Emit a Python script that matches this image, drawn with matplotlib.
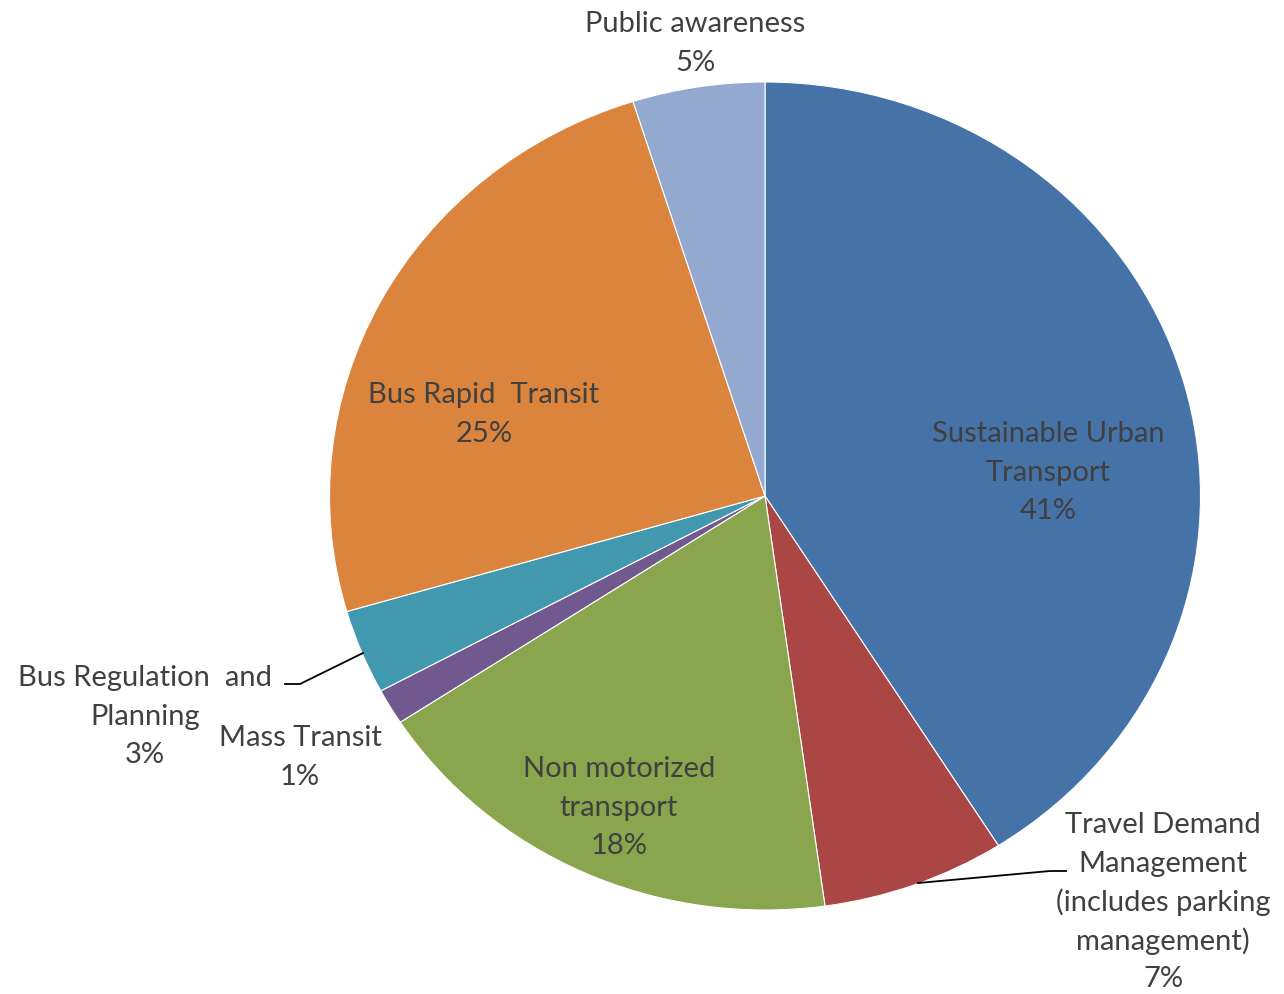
import matplotlib.pyplot as plt

categories = ["Sustainable Urban\nTransport", "Travel Demand\nManagement\n(includes parking\nmanagement)",
              "Non motorized\ntransport", "Mass Transit", "Bus Regulation  and\nPlanning",
              "Bus Rapid  Transit", "Public awareness"]
values = [41.0, 6.8, 18.0, 1.4, 3.3, 24.6, 4.9]
colors = ["#4572A7", "#AA4643", "#89A54E", "#71588F", "#4198AF", "#DB843D", "#93A9CF"]

W, H = 1284, 994
cx, cy, rx, ry = 765, 496, 435.5, 414

fig = plt.figure(figsize=(W / 100, H / 100), dpi=100)
ax = fig.add_axes([(cx - rx) / W, (H - cy - ry) / H, 2 * rx / W, 2 * ry / H])
ax.pie(values, colors=colors, startangle=90, counterclock=False,
       wedgeprops=dict(linewidth=0.8, edgecolor="white"))
ax.set_aspect("auto")
ax.set_xlim(-1, 1)
ax.set_ylim(-1, 1)
ax.set_axis_off()


def px(x, y):
    return (x - cx) / rx, (cy - y) / ry


# label position (centre x, first line y) in pixel space; one text per line
label_pos = [(1048, 434), (1163, 825), (619, 769), (300, 738), (145, 678), (484, 395), (695, 24)]
line_step = 38.6
for name, v, (lx, ly) in zip(categories, values, label_pos):
    lines = name.split("\n") + [f"{round(v)}%"]
    for i, line in enumerate(lines):
        x, y = px(lx, ly + i * line_step)
        ax.text(x, y, line, ha="center", va="center", fontsize=21,
                family="Lato", color="#404040", clip_on=False)

# leader lines
for pts in [[(363, 653), (300, 684), (285, 684)], [(918, 883), (1050, 871), (1066, 871)]]:
    xs, ys = zip(*[px(a, b) for a, b in pts])
    ax.plot(xs, ys, color="black", lw=1.3, clip_on=False)

fig.savefig("out.png", dpi=100)
